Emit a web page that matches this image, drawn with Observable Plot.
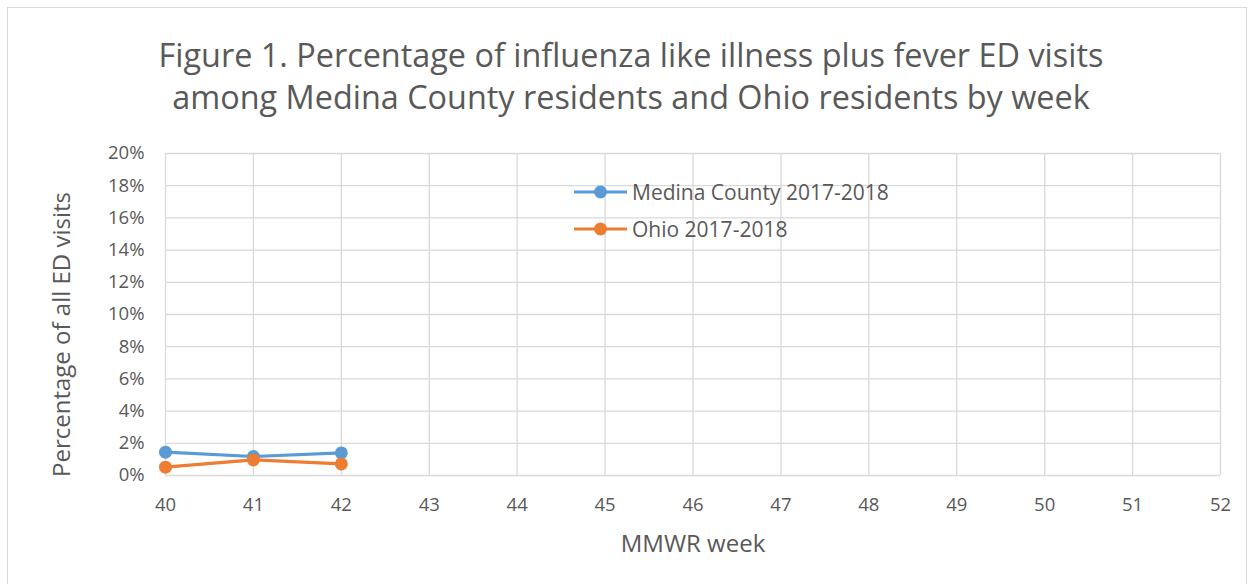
<!DOCTYPE html>
<html>
<head>
<meta charset="utf-8">
<script src="https://cdn.jsdelivr.net/npm/d3@7"></script>
<script src="https://cdn.jsdelivr.net/npm/@observablehq/plot@0.6"></script>
<style>
  html, body { margin: 0; padding: 0; background: #fff; }
  #wrap { position: relative; width: 1250px; height: 584px; overflow: hidden; font-family: "Open Sans", sans-serif; color: #595959; }
  #frame { position: absolute; left: 7px; top: 7px; width: 1240px; height: 600px; border: 1.5px solid #d9d9d9; box-sizing: border-box; }
  #title { position: absolute; left: 0; width: 1262px; top: 33px; text-align: center; font-size: 32.4px; line-height: 42px; color: #595959; }
  #plot { position: absolute; left: 0; top: 0; }
  #legend { position: absolute; left: 573px; top: 173px; font-size: 21px; color: #595959; }
  .item { display: flex; align-items: center; height: 37px; }
  .item svg { margin-right: 4px; }
</style>
</head>
<body>
<div id="wrap">
  <div id="frame"></div>
  <div id="plot"></div>
  <div id="title"></div>
  <div id="legend"></div>
</div>
<script>
const titleLines = ["Figure 1. Percentage of influenza like illness plus fever ED visits", "among Medina County residents and Ohio residents by week"];
const weeks = [40, 41, 42];
const seriesNames = ["Medina County 2017-2018", "Ohio 2017-2018"];
const seriesColors = ["#5B9BD5", "#ED7D31"];
const medina = [0.0145, 0.0118, 0.0140];
const ohio = [0.0052, 0.0097, 0.0072];
const xTicks = [40, 41, 42, 43, 44, 45, 46, 47, 48, 49, 50, 51, 52];
const yTicks = [0, 0.02, 0.04, 0.06, 0.08, 0.10, 0.12, 0.14, 0.16, 0.18, 0.20];
const xLabel = "MMWR week";
const yLabel = "Percentage of all ED visits";

document.getElementById("title").innerHTML = titleLines.join("<br>");

const data = [];
weeks.forEach((w, i) => {
  data.push({week: w, value: medina[i], series: seriesNames[0]});
  data.push({week: w, value: ohio[i], series: seriesNames[1]});
});

const pct = d => Math.round(d * 100) + "%";

const chart = Plot.plot({
  width: 1250,
  height: 584,
  marginLeft: 165,
  marginRight: 30,
  marginTop: 153,
  marginBottom: 109,
  style: {fontFamily: "'Open Sans', sans-serif", fontSize: "18px", color: "#595959", background: "transparent"},
  x: {domain: [40, 52], label: null},
  y: {domain: [0, 0.2], label: null},
  color: {domain: seriesNames, range: seriesColors},
  marks: [
    Plot.gridX(xTicks, {stroke: "#d9d9d9", strokeOpacity: 1, strokeWidth: 1.3}),
    Plot.gridY(yTicks, {stroke: "#d9d9d9", strokeOpacity: 1, strokeWidth: 1.3}),
    Plot.axisX(xTicks, {tickSize: 0, tickPadding: 22, fontSize: 18.5, fill: "#595959", tickFormat: d => String(d)}),
    Plot.axisY(yTicks, {tickSize: 0, tickPadding: 21, fontSize: 18.5, fill: "#595959", tickFormat: pct}),
    Plot.text([xLabel], {frameAnchor: "bottom", dy: 76, fontSize: 24, fill: "#595959", textAnchor: "middle"}),
    Plot.text([yLabel], {frameAnchor: "left", dx: -103, dy: 20, rotate: -90, fontSize: 24, fill: "#595959", textAnchor: "middle"}),
    Plot.line(data, {x: "week", y: "value", z: "series", stroke: "series", strokeWidth: 3.2}),
    Plot.dot(data, {x: "week", y: "value", fill: "series", r: 6.5})
  ]
});
document.getElementById("plot").appendChild(chart);

const legend = document.getElementById("legend");
seriesNames.forEach((name, i) => {
  const div = document.createElement("div");
  div.className = "item";
  div.innerHTML = `<svg width="55" height="16"><line x1="1" x2="54" y1="8" y2="8" stroke="${seriesColors[i]}" stroke-width="3.2"/><circle cx="27.5" cy="8" r="6.5" fill="${seriesColors[i]}"/></svg><span>${name}</span>`;
  legend.appendChild(div);
});
</script>
</body>
</html>
